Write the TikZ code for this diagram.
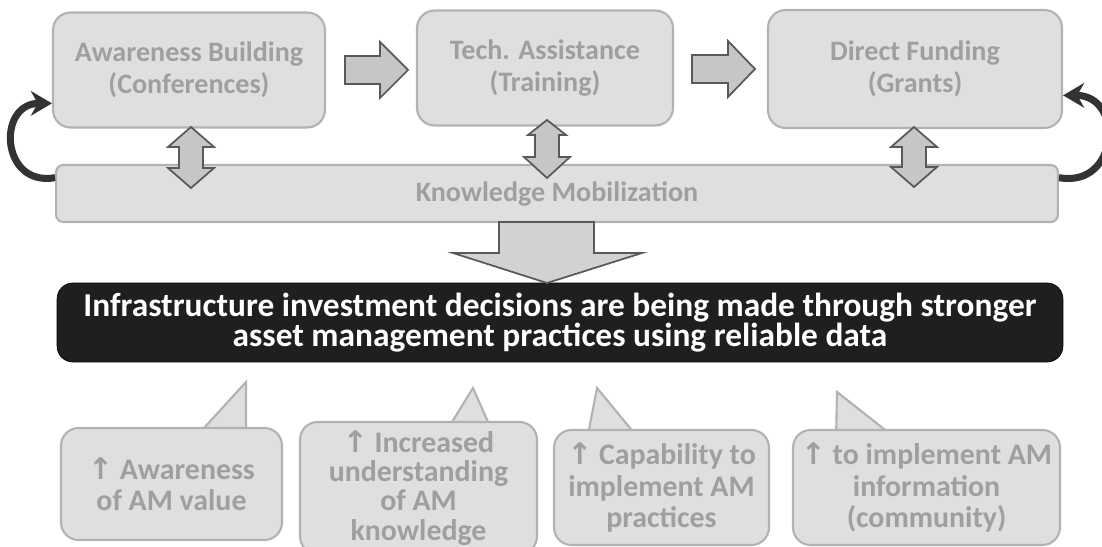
\documentclass[tikz,border=0pt]{standalone}
\usepackage{fontspec}
\setmainfont{Carlito}
\newfontfamily\arrowfont{DejaVu Sans}
\usetikzlibrary{arrows.meta}
\tikzstyle{topbox}=[draw=gray!60,fill=gray!25,line width=1.2pt,rounded corners=10pt,align=center,text=gray!75,font=\bfseries\fontsize{16}{18}\selectfont]
\tikzstyle{callbox}=[topbox,font=\bfseries\fontsize{17}{17.8}\selectfont]
\tikzstyle{pointer}=[fill=gray!25,draw=gray!60,line width=1.2pt]
\tikzstyle{goalbox}=[draw=black,fill=black!88,rounded corners=9pt,align=center,text=white,font=\bfseries\fontsize{19}{17.5}\selectfont]
\tikzstyle{blockarrow}=[draw=gray!70!black,fill=gray!45,line width=1pt,line join=miter]
\tikzstyle{loopback}=[line width=4pt,black!80,-{Stealth[length=12pt,width=14pt]}]

\begin{document}
\begin{tikzpicture}[x=0.02cm,y=-0.02cm]
\useasboundingbox (0,0) rectangle (1102,547);
% top row
\node[topbox,minimum width=5.44cm,minimum height=2.3cm] (aware) at (189,70) {Awareness Building\\(Conferences)};
\node[topbox,minimum width=5.12cm,minimum height=2.3cm] (tech) at (545,68) {Tech. Assistance\\(Training)};
\node[topbox,minimum width=5.88cm,minimum height=2.36cm] (fund) at (915,69) {Direct Funding\\(Grants)};
\node[topbox,rounded corners=4pt,minimum width=20.04cm,minimum height=1.14cm] (knowmob) at (557,193.5) {Knowledge Mobilization};
% arrows between the boxes
\filldraw[blockarrow] (345,56)--(380,56)--(380,42)--(408,70)--(380,98)--(380,84)--(345,84)--cycle;
\filldraw[blockarrow] (692,55)--(728,55)--(728,41)--(755,69)--(728,97)--(728,83)--(692,83)--cycle;
% up and down arrows
\filldraw[blockarrow] (191,127)--(214,147)--(203,147)--(203,168)--(214,168)--(191,188)--(168,168)--(179,168)--(179,147)--(168,147)--cycle;
\filldraw[blockarrow] (547,120)--(566,135)--(559,135)--(559,157)--(570,157)--(547,178)--(524,157)--(535,157)--(535,135)--(528,135)--cycle;
\filldraw[blockarrow] (914,127)--(937,147)--(926,147)--(926,167)--(937,167)--(914,187)--(891,167)--(902,167)--(902,147)--(891,147)--cycle;
\draw[loopback] ([yshift=9pt]knowmob.west) to[out=190,in=180,looseness=1.9] ([yshift=-19pt]aware.west);
\draw[loopback] ([yshift=9pt]knowmob.east) to[out=-10,in=0,looseness=1.9] ([yshift=-15pt]fund.east);
% goal
\node[goalbox,minimum width=20.12cm,minimum height=1.58cm] (goal) at (560,322.5) {Infrastructure investment decisions are being made through stronger\\asset management practices using reliable data};
\filldraw[blockarrow,fill=gray!35] (499,222)--(594,222)--(594,253)--(642,253)--(547,283)--(453,253)--(499,253)--cycle;
% outcomes
\filldraw[pointer] (193,440)--(246,382)--(246,440);
\filldraw[pointer] (441,440)--(473,388)--(496,440);
\filldraw[pointer] (587,440)--(597,388)--(640,440);
\filldraw[pointer] (836,440)--(837,392)--(898,440);
\node[callbox,minimum width=4.42cm,minimum height=2.24cm] (out1) at (171.5,484) {{\arrowfont ↑} Awareness\\of AM value};
\node[callbox,minimum width=4.74cm,minimum height=2.64cm,font=\bfseries\fontsize{17}{16.6}\selectfont] (out2) at (418.5,488) {{\arrowfont ↑} Increased\\understanding\\of AM\\knowledge};
\node[callbox,minimum width=4.3cm,minimum height=2.3cm] (out3) at (661.5,487.5) {{\arrowfont ↑} Capability to\\implement AM\\practices};
\node[callbox,minimum width=5.34cm,minimum height=2.3cm] (out4) at (926.5,487.5) {{\arrowfont ↑} to implement AM\\information\\(community)};
\end{tikzpicture}
\end{document}
